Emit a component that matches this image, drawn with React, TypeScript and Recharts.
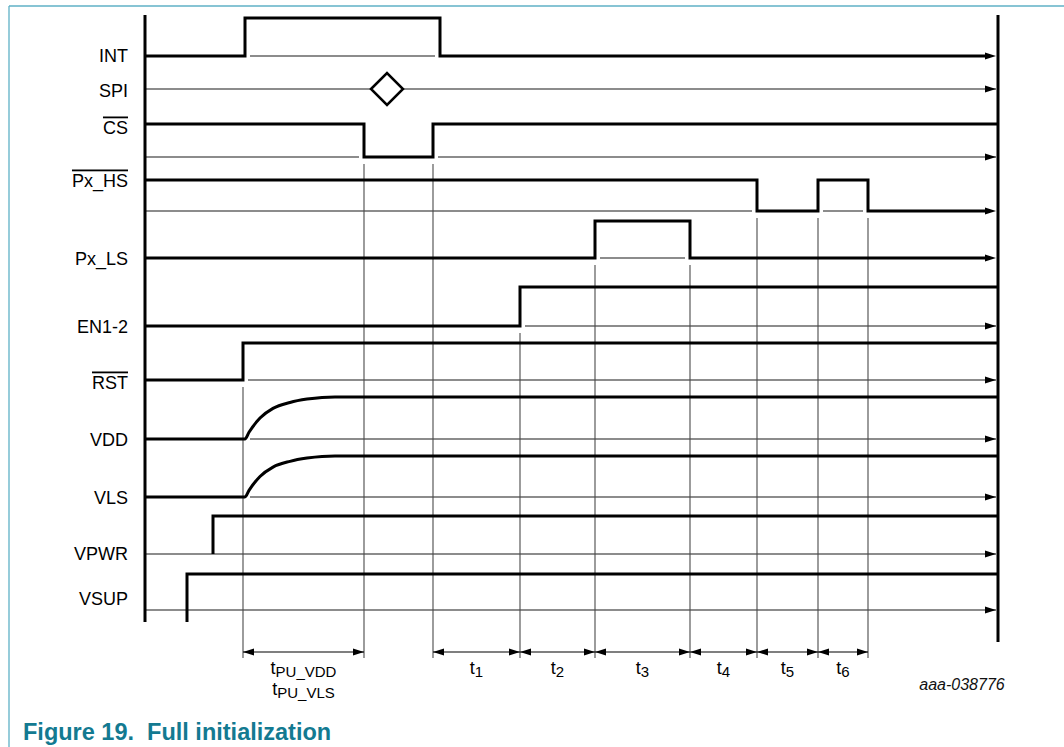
import React from "react";
import {
  ComposedChart,
  Line,
  XAxis,
  YAxis,
  ReferenceLine,
  ReferenceDot,
} from "recharts";

const W = 1064;
const H = 747;
const FONT = '"Liberation Sans", Arial, Helvetica, sans-serif';

// time axis in arbitrary units, 0 = left rail
const T_END = 853;
const T_TIP = 851;

// signal rows, top to bottom
const SIGNAL_NAMES = ["INT", "SPI", "CS", "Px_HS", "Px_LS", "EN1-2", "RST", "VDD", "VLS", "VPWR", "VSUP"];
const ACTIVE_LOW = [false, false, true, true, false, false, true, false, false, false, false];

// edges: [time, level after the edge]
const INT_EDGES = [[0, 0], [100, 1], [295, 0]];
const CS_EDGES = [[0, 1], [219, 0], [288, 1]];
const PXHS_EDGES = [[0, 1], [612, 0], [673, 1], [723, 0]];
const PXLS_EDGES = [[0, 0], [450, 1], [545, 0]];
const EN_EDGES = [[0, 0], [375, 1]];
const RST_EDGES = [[0, 0], [98, 1]];
const VPWR_EDGES = [[68, 1]];
const VSUP_EDGES = [[42, 1]];

// power-up ramps: [time, fraction of final level]
const VDD_RAMP = [[100, 0], [104, 0.16], [115, 0.5], [128, 0.73], [145, 0.87], [162, 0.95], [177, 0.99], [190, 1]];
const VLS_RAMP = [[100, 0], [104, 0.16], [115, 0.5], [128, 0.73], [145, 0.87], [162, 0.95], [177, 0.99], [190, 1]];

const SPI_FRAME = 242;

// timing marks and the intervals between them
const MARK_TIMES = [98, 219, 288, 375, 450, 545, 612, 673, 723];
const MARK_ROWS = [6, 2, 2, 5, 4, 4, 3, 3, 3];
const INTERVALS = [[98, 219], [288, 375], [375, 450], [450, 545], [545, 612], [612, 673], [673, 723]];
const INTERVAL_LABELS = [
  [["t", "PU_VDD"], ["t", "PU_VLS"]],
  [["t", "1"]],
  [["t", "2"]],
  [["t", "3"]],
  [["t", "4"]],
  [["t", "5"]],
  [["t", "6"]],
];

// row layout (y units of the chart)
const ROWS = [
  { low: 56, high: 18, base: 56, label: 55 },
  { low: 89, high: 89, base: 89, label: 90 },
  { low: 157, high: 124, base: 157, label: 127 },
  { low: 211, high: 180, base: 211, label: 180 },
  { low: 258, high: 221, base: 258, label: 258 },
  { low: 326, high: 287, base: 326, label: 326 },
  { low: 380, high: 343, base: 380, label: 382 },
  { low: 439, high: 397, base: 439, label: 439 },
  { low: 497, high: 456, base: 497, label: 497 },
  { low: 554, high: 516, base: 554, label: 553 },
  { low: 622, high: 574, base: 610, label: 598 },
];

const DIM_Y = 652;
const MARK_BOTTOM = 658;
const DIM_TEXT_Y = 674;
const GAP = 5;

const yOf = (row, l) => row.low + l * (row.high - row.low);

function stepPoints(edges, row) {
  const pts = [];
  let prev = 0;
  edges.forEach(([t, l], i) => {
    if (i === 0 && t === 0) {
      pts.push({ t, y: yOf(row, l) });
    } else {
      pts.push({ t, y: yOf(row, i === 0 ? 0 : prev) });
      pts.push({ t, y: yOf(row, l) });
    }
    prev = l;
  });
  pts.push({ t: prev ? T_END : T_TIP - 6, y: yOf(row, prev) });
  return pts;
}

function rampPoints(ramp, row) {
  return [
    { t: 0, y: yOf(row, 0) },
    ...ramp.map(([t, f]) => ({ t, y: yOf(row, f) })),
    { t: T_END, y: yOf(row, 1) },
  ];
}

// thin reference segments where the signal sits above its baseline
function thinSegments(edges) {
  if (!edges || edges[0][0] > 0) return [[0, T_TIP]];
  const segs = [];
  let start = null;
  edges.forEach(([t, l]) => {
    if (l === 1) start = t === 0 ? 0 : t + GAP;
    else if (start !== null) {
      segs.push([start, t - GAP]);
      start = null;
    }
  });
  if (start !== null) segs.push([start, T_TIP]);
  return segs;
}

const STEP_SERIES = [
  { row: 0, edges: INT_EDGES },
  { row: 2, edges: CS_EDGES },
  { row: 3, edges: PXHS_EDGES },
  { row: 4, edges: PXLS_EDGES },
  { row: 5, edges: EN_EDGES },
  { row: 6, edges: RST_EDGES },
  { row: 9, edges: VPWR_EDGES },
  { row: 10, edges: VSUP_EDGES },
];
const RAMP_SERIES = [
  { row: 7, ramp: VDD_RAMP },
  { row: 8, ramp: VLS_RAMP },
];

function baselineSegments(rowIdx) {
  const step = STEP_SERIES.find((s) => s.row === rowIdx);
  if (step) return thinSegments(step.edges);
  const ramp = RAMP_SERIES.find((s) => s.row === rowIdx);
  if (ramp) return [[ramp.ramp[0][0] + GAP, T_TIP]];
  return [[0, T_TIP]];
}

function ArrowRight(props) {
  const { cx, cy } = props;
  return <path d={`M${cx},${cy} L${cx - 11},${cy - 3.5} L${cx - 11},${cy + 3.5} Z`} fill="#000" />;
}

function ArrowLeft(props) {
  const { cx, cy } = props;
  return <path d={`M${cx},${cy} L${cx + 11},${cy - 3.5} L${cx + 11},${cy + 3.5} Z`} fill="#000" />;
}

function Diamond(props) {
  const { cx, cy } = props;
  const r = 16;
  return (
    <path
      d={`M${cx - r},${cy} L${cx},${cy - r} L${cx + r},${cy} L${cx},${cy + r} Z`}
      fill="#fff"
      stroke="#000"
      strokeWidth={2.5}
    />
  );
}

function LaneTick(props) {
  const { x, y, payload } = props;
  const idx = ROWS.findIndex((r) => r.label === payload.value);
  return (
    <text
      x={x}
      y={y}
      dy={6.5}
      textAnchor="end"
      fontSize={18}
      fontFamily={FONT}
      fill="#000"
      style={ACTIVE_LOW[idx] ? { textDecoration: "overline" } : undefined}
    >
      {SIGNAL_NAMES[idx]}
    </text>
  );
}

function makeDimLabel(lines) {
  return function DimLabel(props) {
    const { cx, cy } = props;
    return (
      <g>
        {lines.map(([main, sub], i) => (
          <text key={i} x={cx} y={cy + i * 21} textAnchor="middle" fontFamily={FONT} fontSize={18} fill="#000">
            <tspan>{main}</tspan>
            <tspan dy={3} fontSize={15}>
              {sub}
            </tspan>
          </text>
        ))}
      </g>
    );
  };
}

export default function App() {
  const labelTicks = ROWS.map((r) => r.label);

  return (
    <div style={{ position: "absolute", left: 0, top: 0, width: W, height: H, background: "#fff" }}>
      <ComposedChart width={W} height={H} margin={{ top: 15, right: 0, bottom: 125, left: 0 }}>
        <XAxis type="number" dataKey="t" domain={[0, 919]} hide allowDataOverflow />
        <YAxis
          type="number"
          domain={[15, 622]}
          reversed
          width={145}
          ticks={labelTicks}
          interval={0}
          axisLine={{ stroke: "#000", strokeWidth: 3 }}
          tickLine={false}
          tickSize={6}
          tickMargin={11}
          tick={LaneTick}
        />

        {/* baselines */}
        {ROWS.map((row, i) =>
          baselineSegments(i).map(([a, b], k) => (
            <ReferenceLine
              key={`b${i}-${k}`}
              segment={[{ x: a, y: row.base }, { x: b, y: row.base }]}
              stroke="#666"
              strokeWidth={1.3}
              ifOverflow="visible"
            />
          ))
        )}
        {ROWS.map((row, i) => (
          <ReferenceDot key={`a${i}`} x={T_TIP} y={row.base} r={1} ifOverflow="visible" shape={ArrowRight} />
        ))}

        {/* timing marks */}
        {MARK_TIMES.map((t, i) => (
          <ReferenceLine
            key={`m${i}`}
            segment={[{ x: t, y: ROWS[MARK_ROWS[i]].low + 7 }, { x: t, y: MARK_BOTTOM }]}
            stroke="#4a4a4a"
            strokeWidth={1.1}
            ifOverflow="visible"
          />
        ))}

        {/* right rail */}
        <ReferenceLine
          segment={[{ x: T_END, y: 15 }, { x: T_END, y: 642 }]}
          stroke="#000"
          strokeWidth={3}
          ifOverflow="visible"
        />

        {/* signals */}
        {STEP_SERIES.map((s) => (
          <Line
            key={`s${s.row}`}
            data={stepPoints(s.edges, ROWS[s.row])}
            dataKey="y"
            type="linear"
            stroke="#000"
            strokeWidth={3}
            dot={false}
            activeDot={false}
            isAnimationActive={false}
          />
        ))}
        {RAMP_SERIES.map((s) => (
          <Line
            key={`r${s.row}`}
            data={rampPoints(s.ramp, ROWS[s.row])}
            dataKey="y"
            type="monotone"
            stroke="#000"
            strokeWidth={3}
            dot={false}
            activeDot={false}
            isAnimationActive={false}
          />
        ))}

        <ReferenceDot x={SPI_FRAME} y={ROWS[1].base} r={1} ifOverflow="visible" shape={Diamond} />

        {/* interval dimensions */}
        {INTERVALS.map(([a, b], i) => (
          <ReferenceLine
            key={`d${i}`}
            segment={[{ x: a, y: DIM_Y }, { x: b, y: DIM_Y }]}
            stroke="#000"
            strokeWidth={1.2}
            ifOverflow="visible"
          />
        ))}
        {INTERVALS.map(([a], i) => (
          <ReferenceDot key={`dl${i}`} x={a} y={DIM_Y} r={1} ifOverflow="visible" shape={ArrowLeft} />
        ))}
        {INTERVALS.map(([, b], i) => (
          <ReferenceDot key={`dr${i}`} x={b} y={DIM_Y} r={1} ifOverflow="visible" shape={ArrowRight} />
        ))}
        {INTERVALS.map(([a, b], i) => (
          <ReferenceDot
            key={`dt${i}`}
            x={(a + b) / 2}
            y={DIM_TEXT_Y}
            r={1}
            ifOverflow="visible"
            shape={makeDimLabel(INTERVAL_LABELS[i])}
          />
        ))}
      </ComposedChart>

      <svg width={W} height={H} style={{ position: "absolute", left: 0, top: 0, pointerEvents: "none" }}>
        <line x1={9} y1={6} x2={W} y2={6} stroke="#5fb1c6" strokeWidth={1.3} />
        <line x1={9} y1={6} x2={9} y2={H} stroke="#5fb1c6" strokeWidth={1.3} />
        <text x={962} y={690} textAnchor="middle" fontFamily={FONT} fontStyle="italic" fontSize={16} fill="#111">
          aaa-038776
        </text>
        <text x={23} y={740} fontFamily={FONT} fontWeight="bold" fontSize={23.5} fill="#137a91" xmlSpace="preserve">
          Figure 19.  Full initialization
        </text>
      </svg>
    </div>
  );
}
